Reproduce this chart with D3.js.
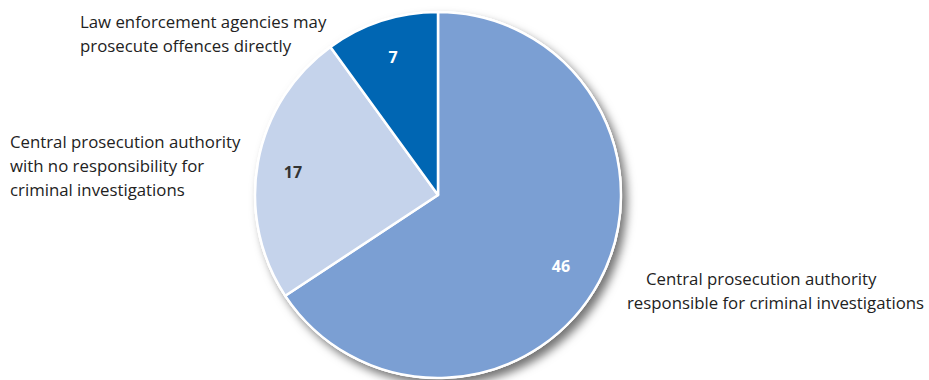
<!DOCTYPE html>
<html>
<head>
<script src="https://d3js.org/d3.v7.min.js"></script>
<style>
  body { margin: 0; background: #fff; }
  svg { font-family: "Open Sans", "DejaVu Sans", sans-serif; }
</style>
</head>
<body>
<div id="chart"></div>
<script>
// Data
const categories = [
  "Central prosecution authority responsible for criminal investigations",
  "Central prosecution authority with no responsibility for criminal investigations",
  "Law enforcement agencies may prosecute offences directly"
];
const values = [46, 17, 7];
const colors = ["#7b9fd3", "#c5d3eb", "#0066b3"];
const valueColors = ["#fff", "#333", "#fff"];

// Category label lines
const labelLines = [
  ["Central prosecution authority", "responsible for criminal investigations"],
  ["Central prosecution authority", "with no responsibility for", "criminal investigations"],
  ["Law enforcement agencies may", "prosecute offences directly"]
];

const width = 929, height = 380;
const cx = 438, cy = 195, r = 183;

const svg = d3.select("#chart").append("svg")
  .attr("width", width).attr("height", height);

const defs = svg.append("defs");
const filter = defs.append("filter").attr("id", "shadow")
  .attr("x", "-20%").attr("y", "-20%").attr("width", "150%").attr("height", "150%");
filter.append("feDropShadow")
  .attr("dx", 5).attr("dy", 6).attr("stdDeviation", 5)
  .attr("flood-color", "#000").attr("flood-opacity", 0.55);

const pie = d3.pie().sort(null).value(d => d);
const arcs = pie(values);
const arc = d3.arc().innerRadius(0).outerRadius(r);

const g = svg.append("g").attr("transform", `translate(${cx},${cy})`);

// shadow under whole pie
g.append("circle").attr("r", r + 1).attr("fill", "#fff")
  .style("filter", "url(#shadow)");

g.selectAll("path.slice")
  .data(arcs)
  .enter().append("path")
  .attr("class", "slice")
  .attr("d", arc)
  .attr("fill", (d, i) => colors[i])
  .attr("stroke", "#fff")
  .attr("stroke-width", 2.5)
  .attr("stroke-linejoin", "round");

// value labels
const valuePos = [[123, 77], [-145, -17], [-45, -132]];
g.selectAll("text.value")
  .data(arcs)
  .enter().append("text")
  .attr("class", "value")
  .attr("x", (d, i) => valuePos[i][0])
  .attr("y", (d, i) => valuePos[i][1])
  .attr("text-anchor", "middle")
  .attr("font-size", 16)
  .attr("font-weight", "bold")
  .attr("fill", (d, i) => valueColors[i])
  .text(d => d.data);

// category labels (x per line)
const labelPos = [
  { xs: [646, 627], y: 285 },
  { xs: [10, 10, 10], y: 148 },
  { xs: [80, 80], y: 28 }
];
const lineH = 24;
labelLines.forEach((lines, i) => {
  const t = svg.append("text")
    .attr("y", labelPos[i].y)
    .attr("font-size", 16.8)
    .attr("fill", "#222");
  lines.forEach((l, j) => {
    t.append("tspan")
      .attr("x", labelPos[i].xs[j])
      .attr("dy", j === 0 ? 0 : lineH)
      .text(l);
  });
});
</script>
</body>
</html>
